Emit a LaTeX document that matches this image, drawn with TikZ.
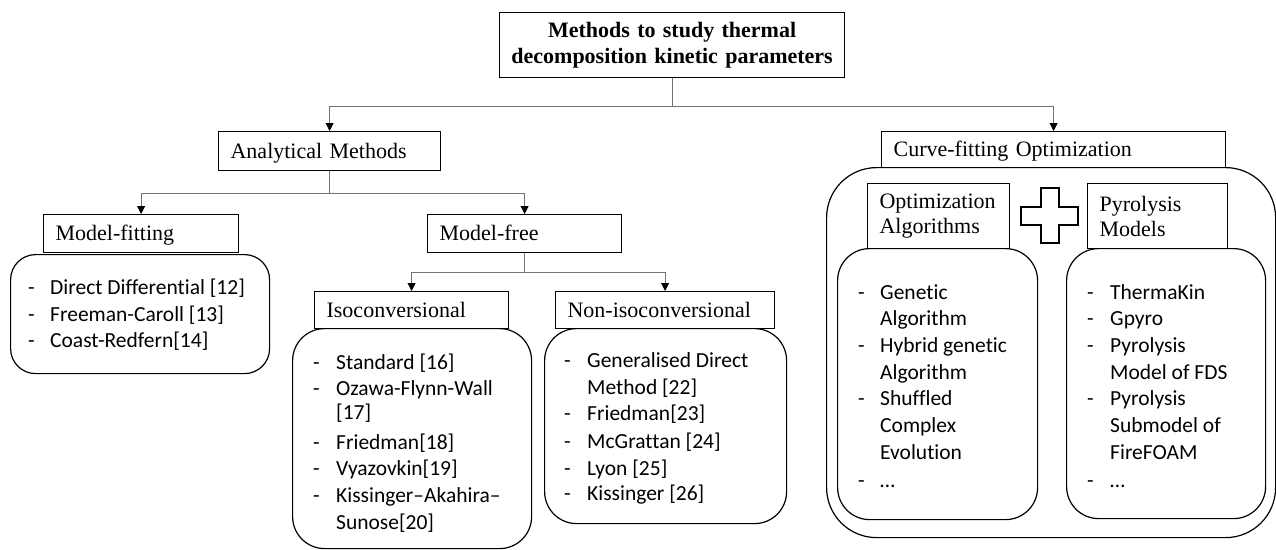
\documentclass[tikz,border=0pt]{standalone}
\usepackage{fontspec}
\setmainfont{Liberation Serif}
\newfontfamily\listfont[Ligatures=NoCommon]{Carlito}
\usepackage{tikz}
\usetikzlibrary{arrows.meta,positioning}

\begin{document}
\begin{tikzpicture}[x=1pt, y=-1pt,
  hdr/.style={draw, line width=1.2pt, anchor=north west, inner xsep=12pt, inner ysep=0pt, align=left,
    font=\fontsize{22}{25}\selectfont, text height=15pt, text depth=1pt},
  lst/.style={draw, line width=1.2pt, rounded corners=#1, anchor=north west, inner sep=0pt},
  tip/.style={draw=black!55, line width=0.9pt, -{Triangle[length=8pt, width=8pt, color=black]}},
  item/.style={font=\listfont\fontsize{21.5}{26}\selectfont, anchor=base west, inner sep=0pt}]
\useasboundingbox (0,0) rectangle (1276,549);

\node[lst=25pt, minimum width=259pt, minimum height=119pt] (fitl) at (10,254) {};
\node[lst=32pt, minimum width=239pt, minimum height=220pt] (isol) at (292,328) {};
\node[lst=32pt, minimum width=242pt, minimum height=195pt] (nisol) at (544,328) {};
\node[lst=50pt, minimum width=449pt, minimum height=370pt] (cfol) at (826,167) {};
\node[lst=32pt, minimum width=200pt, minimum height=271pt] (oalgl) at (837,248) {};
\node[lst=32pt, minimum width=199pt, minimum height=270pt] (pmodl) at (1066,248) {};

\node[hdr, inner xsep=4pt, text width=337pt, minimum height=65pt, align=center, text height={}, text depth={},
  font=\bfseries\fontsize{22}{26}\selectfont] (title) at (499,12) {Methods to study thermal\\decomposition kinetic parameters};
\node[hdr, text width=198pt, minimum height=39pt] (ana) at (218,131) {Analytical Methods};
\node[hdr, text width=171pt, minimum height=38pt] (mfit) at (43,214) {Model-fitting};
\node[hdr, text width=170pt, minimum height=38pt] (mfree) at (427,214) {Model-free};
\node[hdr, text width=170pt, minimum height=37pt] (iso) at (314,291) {Isoconversional};
\node[hdr, text width=195pt, minimum height=37pt] (niso) at (555,291) {Non-isoconversional};
\node[hdr, text width=320pt, minimum height=36pt] (cfo) at (881,131) {Curve-fitting Optimization};
\node[hdr, text width=118pt, minimum height=65pt, text height={}, text depth={}] (oalg) at (867,183) {Optimization\\Algorithms};
\node[hdr, text width=116pt, minimum height=65pt, text height={}, text depth={}] (pmod) at (1087,183) {Pyrolysis\\Models};

\draw[tip] (title.south) -- ++(0,28) -| (ana.north);
\draw[tip] (title.south) -- ++(0,28) -| (cfo.north);
\draw[tip] (ana.south) -- ++(0,22) -| (mfit.north);
\draw[tip] (ana.south) -- ++(0,22) -| (mfree.north);
\draw[tip] (mfree.south) -- ++(0,19) -| (iso.north);
\draw[tip] (mfree.south) -- ++(0,19) -| (niso.north);

\draw[line width=1.2pt] (1041,188) -- (1059,188) -- (1059,207) -- (1078,207) -- (1078,225) -- (1059,225)
  -- (1059,243) -- (1041,243) -- (1041,225) -- (1021,225) -- (1021,207) -- (1041,207) -- cycle;

\foreach \y/\d/\t in {287/-/Direct Differential [12], 314/-/Freeman-Caroll [13], 340/-/Coast-Redfern[14]} {
  \node[item] (fitd-\y) at (28,\y+7) {\d};
  \node[item] (fitt-\y) at (50,\y+7) {\t};
}
\foreach \y/\d/\t in {362/-/Standard [16], 388/-/Ozawa-Flynn-Wall, 412//[17], 442/-/Friedman[18],
  468/-/Vyazovkin[19], 495/-/Kissinger–Akahira–, 522//Sunose[20]} {
  \node[item] (isod-\y) at (313,\y+7) {\d};
  \node[item] (isot-\y) at (336,\y+7) {\t};
}
\foreach \y/\d/\t in {360/-/Generalised Direct, 387//Method [22], 413/-/Friedman[23], 441/-/McGrattan [24],
  468/-/Lyon [25], 493/-/Kissinger [26]} {
  \node[item] (nisod-\y) at (564,\y+7) {\d};
  \node[item] (nisot-\y) at (587,\y+7) {\t};
}
\foreach \y/\d/\t in {292/-/Genetic, 318//Algorithm, 345/-/Hybrid genetic, 372//Algorithm, 398/-/Shuffled,
  425//Complex, 452//Evolution, 480/-/…} {
  \node[item] (oalgd-\y) at (858,\y+7) {\d};
  \node[item] (oalgt-\y) at (880,\y+7) {\t};
}
\foreach \y/\d/\t in {292/-/ThermaKin, 318/-/Gpyro, 345/-/Pyrolysis, 372//Model of FDS, 398/-/Pyrolysis,
  425//Submodel of, 452//FireFOAM, 480/-/…} {
  \node[item] (pmodd-\y) at (1087,\y+7) {\d};
  \node[item] (pmodt-\y) at (1110,\y+7) {\t};
}
\end{tikzpicture}
\end{document}
